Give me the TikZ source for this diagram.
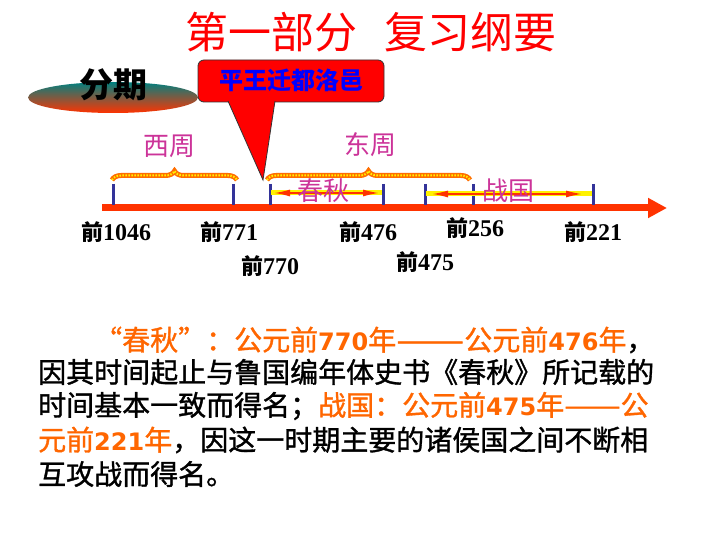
\documentclass[tikz,border=0pt]{standalone}
\usepackage{fontspec}
\setmainfont{Liberation Serif}
\newfontfamily\cjk{Noto Sans CJK SC}
\newfontfamily\cjkm{Noto Sans CJK SC}[FakeBold=1.2]
\newfontfamily\serifd{Liberation Serif}
\newfontfamily\sansd{DejaVu Sans}
\usetikzlibrary{arrows.meta,decorations.pathreplacing,shapes.geometric}
\definecolor{titred}{RGB}{255,0,0}
\definecolor{calred}{RGB}{255,0,0}
\definecolor{magen}{RGB}{204,51,153}
\definecolor{orng}{RGB}{255,102,0}
\definecolor{navyt}{RGB}{51,51,153}
\definecolor{axred}{RGB}{255,51,0}
\definecolor{tealc}{RGB}{0,128,128}
\definecolor{midc}{RGB}{185,128,118}
\definecolor{botc}{RGB}{255,51,0}
\definecolor{bluet}{RGB}{0,0,255}
\definecolor{braceor}{RGB}{255,110,0}
\newcommand{\dig}[1]{{\sansd\bfseries\fontsize{24}{28}\selectfont #1}}
\newcommand{\qian}[1]{{\cjk\bfseries\fontsize{22}{26}\selectfont 前}{\serifd\bfseries\fontsize{24}{28}\selectfont #1}}
\newcommand{\longdash}[1]{\scalebox{#1}[1]{——}}
\tikzset{
  titletext/.style={inner sep=0pt, font=\cjk\fontsize{43}{50}\selectfont},
  axtick/.style={draw=navyt, line width=3pt},
  axisline/.style={draw=axred, line width=7pt, -{Triangle[length=19pt,width=19pt]}},
  glow/.style={draw=yellow, line width=5pt},
  redarrow/.style={draw=axred, line width=1.6pt, {Latex[length=16pt,width=7pt]}-{Latex[length=16pt,width=7pt]}},
  bracebase/.style={decorate, decoration={brace, amplitude=9pt}, draw=braceor, line width=5pt},
  bracedots/.style={decorate, decoration={brace, amplitude=9pt}, draw=yellow, line width=2pt, dash pattern=on 1.5pt off 1.5pt},
  period/.style={inner sep=0pt, text=magen, font=\cjk\fontsize{26}{30}\selectfont},
  yearlbl/.style={inner sep=0pt},
  para/.style={inner sep=0pt, anchor=west, font=\cjkm\fontsize{28}{34}\selectfont},
}
\begin{document}
\begin{tikzpicture}[x=1pt,y=-1pt]
\useasboundingbox[fill=white] (0,0) rectangle (720,540);

% title
\node[titletext, text=titred] (title) at (371,32) {第一部分\hspace{27pt}复习纲要};

% ellipse label
\node[ellipse, minimum width=170pt, minimum height=31pt, inner sep=0pt, draw=none,
      top color=tealc, middle color=midc, bottom color=botc] (ell) at (113,97.5) {};
\node[inner sep=0pt, text=black, font=\cjk\bfseries\fontsize{34}{40}\selectfont] (fenqi) at (113,85) {分期};

% callout
\filldraw[fill=calred, draw=black!80, line width=0.8pt, rounded corners=6pt] (198,60) rectangle (384,102);
\filldraw[fill=calred, draw=black!80, line width=0.8pt] (228,101) -- (263,180) -- (275,101);
\fill[calred] (229.2,100.8) rectangle (274.4,103.2);
\node[inner sep=0pt, text=bluet, font=\cjk\bfseries\fontsize{24}{28}\selectfont] (callout) at (291,80) {平王迁都洛邑};

% braces
\coordinate (bwA) at (112,180); \coordinate (bwB) at (237,180);
\coordinate (beA) at (267,180); \coordinate (beB) at (470,180);
\draw[bracebase] (bwA) -- (bwB);
\draw[bracedots] (bwA) -- (bwB);
\draw[bracebase] (beA) -- (beB);
\draw[bracedots] (beA) -- (beB);
\node[period] (xizhou) at (169,146) {西周};
\node[period] (dongzhou) at (370,145) {东周};

% axis
\coordinate (axL) at (102,208); \coordinate (axR) at (667,208);
\draw[axisline] (axL) -- (axR);

% ticks
\foreach \x in {113,233,270,383,425,473,593} {
  \draw[axtick] (\x,184) -- (\x,205);
}

% double arrows
\coordinate (ca) at (271,193); \coordinate (cb) at (382,193);
\coordinate (za) at (426,194); \coordinate (zb) at (592,194);
\draw[glow] (ca) -- (cb);
\draw[redarrow, shorten <=3pt, shorten >=3pt] (ca) -- (cb);
\draw[glow] (za) -- (zb);
\draw[redarrow, shorten <=6pt, shorten >=10pt] (za) -- (zb);
\node[period] (chunqiu) at (323,191) {春秋};
\node[period] (zhanguo) at (508,191) {战国};

% year labels
\node[yearlbl] (y1046) at (116,232) {\qian{1046}};
\node[yearlbl] (y771) at (229,232) {\qian{771}};
\node[yearlbl] (y770) at (270,266) {\qian{770}};
\node[yearlbl] (y476) at (368,232) {\qian{476}};
\node[yearlbl] (y475) at (425,262) {\qian{475}};
\node[yearlbl] (y256) at (475,228) {\qian{256}};
\node[yearlbl] (y221) at (593,232) {\qian{221}};

% paragraph
\node[para] (l1) at (94,340) {\color{orng}“春秋”：公元前\dig{770}年\longdash{1.45}公元前\dig{476}年\color{black}，};
\node[para] (l2) at (38,372) {因其时间起止与鲁国编年体史书《春秋》所记载的};
\node[para] (l3) at (38,406) {时间基本一致而得名；\color{orng}战国：公元前\dig{475}年\longdash{1.2}公};
\node[para] (l4) at (38,440) {\color{orng}元前\dig{221}年\color{black}，因这一时期主要的诸侯国之间不断相};
\node[para] (l5) at (38,474) {互攻战而得名。};
\end{tikzpicture}
\end{document}
